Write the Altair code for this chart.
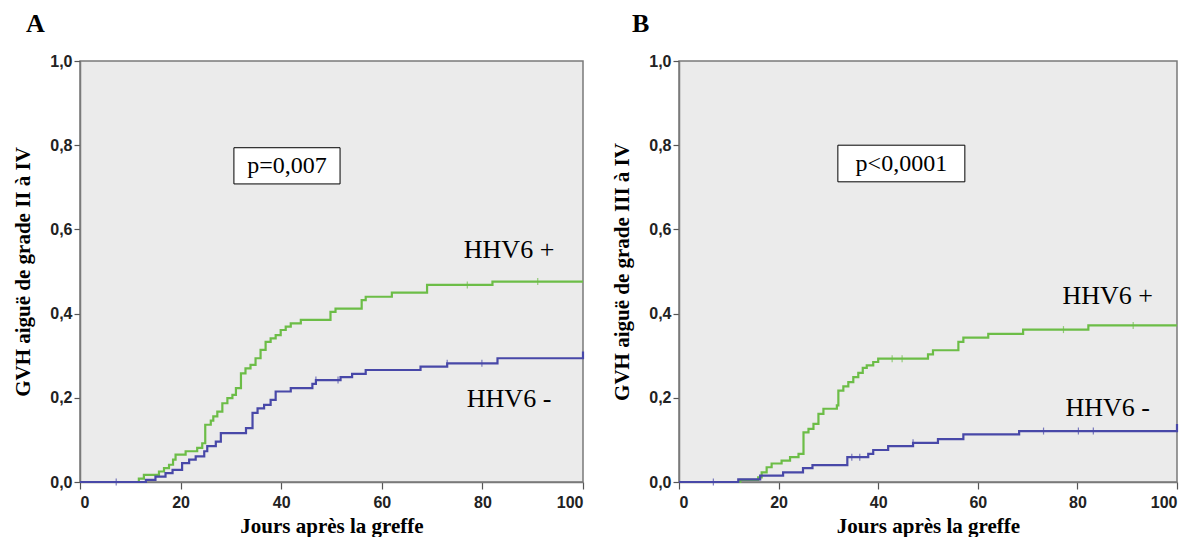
import altair as alt
import pandas as pd

# ---------------- data ----------------
GROUPS = ["HHV6 +", "HHV6 -"]
COLORS = ["#6cbd47", "#4848a8"]

# Panel A : GVH aiguë de grade II à IV
A_PLUS_DAY = [0, 11.7, 12.7, 15.7, 16.7, 17.7, 18.5, 19, 21, 23.3, 24.3, 24.9, 26, 26.5, 27.3, 28.3,
              29.3, 30.3, 31, 32, 32.9, 33.9, 34.9, 35.9, 36.9, 37.9, 38.9, 39.9, 40.9, 41.9, 43.9,
              49.8, 50.8, 56, 56.8, 62, 69, 82, 100]
A_PLUS_VAL = [0, 0.008, 0.017, 0.025, 0.033, 0.041, 0.053, 0.065, 0.073, 0.081, 0.092, 0.136, 0.146,
              0.156, 0.167, 0.187, 0.199, 0.207, 0.223, 0.258, 0.27, 0.278, 0.294, 0.314, 0.333, 0.341,
              0.349, 0.361, 0.369, 0.377, 0.385, 0.404, 0.412, 0.432, 0.44, 0.45, 0.468, 0.476, 0.476]
A_MINUS_DAY = [0, 13.1, 15, 17, 18.4, 20.3, 21.7, 23, 24.7, 25.3, 27, 28, 33, 34.3, 35.3, 36.6, 37.9,
               38.9, 41.9, 46.2, 46.9, 51.8, 54.1, 56.8, 67.7, 73, 83, 99.9, 100]
A_MINUS_VAL = [0, 0.005, 0.013, 0.021, 0.029, 0.045, 0.053, 0.061, 0.073, 0.085, 0.096, 0.116, 0.128,
               0.164, 0.175, 0.183, 0.195, 0.215, 0.223, 0.233, 0.242, 0.249, 0.257, 0.266, 0.274,
               0.282, 0.294, 0.294, 0.31]
A_PLUS_CENS_DAY = [77, 91]
A_PLUS_CENS_VAL = [0.468, 0.476]
A_MINUS_CENS_DAY = [7.2, 46.9, 51.3, 73, 79.9]
A_MINUS_CENS_VAL = [0, 0.242, 0.242, 0.282, 0.282]

# Panel B : GVH aiguë de grade III à IV
B_PLUS_DAY = [0, 12.3, 15.9, 16.6, 17.6, 18.6, 20.6, 22.3, 24, 25, 26, 27, 28, 29, 31.7, 32, 33, 34,
              35, 36, 36.9, 37.7, 39, 40, 50, 51, 56.1, 57.1, 62.1, 69.1, 82.2, 100]
B_PLUS_VAL = [0, 0.005, 0.011, 0.023, 0.035, 0.044, 0.051, 0.059, 0.067, 0.118, 0.126, 0.138, 0.162,
              0.174, 0.182, 0.217, 0.227, 0.237, 0.249, 0.259, 0.271, 0.277, 0.285, 0.293, 0.303,
              0.313, 0.333, 0.343, 0.352, 0.362, 0.372, 0.372]
B_MINUS_DAY = [0, 11.9, 16.3, 20.9, 24.9, 26.8, 33.8, 38, 39, 42, 47, 52, 57.1, 68.3, 99.9, 100]
B_MINUS_VAL = [0, 0.006, 0.015, 0.023, 0.033, 0.04, 0.059, 0.067, 0.076, 0.085, 0.093, 0.102, 0.113,
               0.121, 0.121, 0.138]
B_PLUS_CENS_DAY = [42.8, 44.8, 77.2, 91.2]
B_PLUS_CENS_VAL = [0.293, 0.293, 0.362, 0.372]
B_MINUS_CENS_DAY = [6.9, 34.7, 36.3, 47, 73.2, 80.2, 83.2]
B_MINUS_CENS_VAL = [0, 0.059, 0.059, 0.093, 0.121, 0.121, 0.121]

# annotations
A_PTEXT = "p=0,007"
A_BOX = [30.6, 51.7, 0.708, 0.794]
B_PTEXT = "p<0,0001"
B_BOX = [31.9, 57.4, 0.713, 0.800]
A_LABEL_X = [85.3, 85.3]
A_LABEL_Y = [0.552, 0.197]
B_LABEL_X = [86.1, 86.1]
B_LABEL_Y = [0.442, 0.176]

X_TICKS = [0, 20, 40, 60, 80, 100]
Y_TICKS = [0, 0.2, 0.4, 0.6, 0.8, 1.0]

SERIF = "Liberation Serif"
SANS = "Liberation Sans"

color_scale = alt.Scale(domain=GROUPS, range=COLORS)


def series_df(pd_days, pd_vals, md_days, md_vals):
    rows = [{"day": d, "val": v, "group": GROUPS[0]} for d, v in zip(pd_days, pd_vals)]
    rows += [{"day": d, "val": v, "group": GROUPS[1]} for d, v in zip(md_days, md_vals)]
    return pd.DataFrame(rows)


def panel(lines_df, cens_df, box, ptext, lab_x, lab_y, ytitle, letter, width, title_dx):
    xs = alt.Scale(domain=[0, 100], nice=False)
    ys = alt.Scale(domain=[0, 1], nice=False)
    x_axis = alt.Axis(values=X_TICKS, format="d", tickSize=7, labelPadding=5,
                      title="Jours après la greffe", titlePadding=5)
    y_axis = alt.Axis(values=Y_TICKS, tickSize=6, labelPadding=2, title=ytitle, titlePadding=16,
                      labelExpr="replace(format(datum.value, '.1f'), '.', ',')")

    lines = alt.Chart(lines_df).mark_line(interpolate="step-after", strokeWidth=2.2).encode(
        x=alt.X("day:Q", scale=xs, axis=x_axis),
        y=alt.Y("val:Q", scale=ys, axis=y_axis),
        color=alt.Color("group:N", scale=color_scale, legend=None),
    )
    cens = alt.Chart(cens_df).mark_tick(orient="vertical", size=7, thickness=1.2).encode(
        x=alt.X("day:Q", scale=xs),
        y=alt.Y("val:Q", scale=ys),
        color=alt.Color("group:N", scale=color_scale, legend=None),
    )
    box_df = pd.DataFrame([{"x1": box[0], "x2": box[1], "y1": box[2], "y2": box[3],
                            "xc": (box[0] + box[1]) / 2, "yc": (box[2] + box[3]) / 2,
                            "t": ptext}])
    rect = alt.Chart(box_df).mark_rect(fill="white", stroke="black", strokeWidth=1).encode(
        x=alt.X("x1:Q", scale=xs), x2="x2:Q",
        y=alt.Y("y1:Q", scale=ys), y2="y2:Q",
    )
    ptxt = alt.Chart(box_df).mark_text(font=SERIF, fontSize=24, color="black").encode(
        x=alt.X("xc:Q", scale=xs), y=alt.Y("yc:Q", scale=ys), text="t:N"
    )
    lab_df = pd.DataFrame({"x": lab_x, "y": lab_y, "t": GROUPS})
    labs = alt.Chart(lab_df).mark_text(font=SERIF, fontSize=26, color="black").encode(
        x=alt.X("x:Q", scale=xs), y=alt.Y("y:Q", scale=ys), text="t:N"
    )
    return alt.layer(lines, cens, rect, ptxt, labs).properties(
        width=width, height=421,
        title=alt.Title(letter, anchor="start", frame="group", dx=title_dx, font=SERIF,
                        fontSize=26, fontWeight="bold", color="black", offset=16),
    )


A = panel(series_df(A_PLUS_DAY, A_PLUS_VAL, A_MINUS_DAY, A_MINUS_VAL),
          series_df(A_PLUS_CENS_DAY, A_PLUS_CENS_VAL, A_MINUS_CENS_DAY, A_MINUS_CENS_VAL),
          A_BOX, A_PTEXT, A_LABEL_X, A_LABEL_Y, "GVH aiguë de grade II à IV", "A", 503, -54)
B = panel(series_df(B_PLUS_DAY, B_PLUS_VAL, B_MINUS_DAY, B_MINUS_VAL),
          series_df(B_PLUS_CENS_DAY, B_PLUS_CENS_VAL, B_MINUS_CENS_DAY, B_MINUS_CENS_VAL),
          B_BOX, B_PTEXT, B_LABEL_X, B_LABEL_Y, "GVH aiguë de grade III à IV", "B", 498, -47)

chart = alt.hconcat(A, B, spacing=22).properties(
    padding={"left": 4, "top": 2, "right": 2, "bottom": 0},
    background="white",
).configure_view(
    fill="#ebebeb", stroke="#7a7a7a", strokeWidth=1.5
).configure_axis(
    grid=False, domainColor="#7a7a7a", domainWidth=1.5, tickColor="#555555", tickWidth=1.2,
    labelFont=SANS, labelFontWeight="bold", labelFontSize=16, labelColor="#222222",
    titleFont=SERIF, titleFontWeight="bold", titleFontSize=21, titleColor="black",
).configure_title(anchor="start")

chart.save("out.html", embed_options={"renderer": "svg", "actions": False})
